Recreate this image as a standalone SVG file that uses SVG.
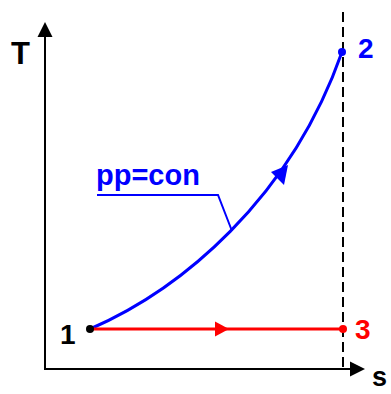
<svg xmlns="http://www.w3.org/2000/svg" width="391" height="394" viewBox="0 0 391 394">
<style>
.lbl{font-family:"Liberation Sans",Arial,sans-serif;font-weight:bold}
.ax{stroke:#000;stroke-width:2;fill:none}
</style>
<rect width="391" height="394" fill="#fff"/>
<g id="axes">
<path class="ax" d="M45,370 V36 M44,369 H351"/>
<polygon points="45,22 37.5,37 52.5,37" fill="#000"/>
<polygon points="365,369 350,361.5 350,376.5" fill="#000"/>
<path d="M343,12 V369" stroke="#000" stroke-width="2" stroke-dasharray="10,5"/>
<text class="lbl" x="11" y="64" font-size="31" fill="#000">T</text>
<text class="lbl" x="372" y="386" font-size="27" fill="#000">s</text>
</g>
<g id="connectors">
<path d="M90,329 C180,290 290,200 342,52" stroke="#0000ff" stroke-width="3" fill="none"/>
<polygon points="288,165 271,172 284,185" fill="#0000ff"/>
<path d="M90,329 H343" stroke="#ff0000" stroke-width="3" fill="none"/>
<polygon points="229,329 215,321.5 215,336.5" fill="#ff0000"/>
<path d="M97,195 H218 L232,231" stroke="#0000ff" stroke-width="2" fill="none"/>
</g>
<g id="node1">
<circle cx="90" cy="329" r="4" fill="#000"/>
<text class="lbl" x="60" y="344" font-size="28" fill="#000">1</text>
</g>
<g id="node2">
<circle cx="342" cy="52" r="4" fill="#0000ff"/>
<text class="lbl" x="358" y="58" font-size="28" fill="#0000ff">2</text>
</g>
<g id="node3">
<circle cx="343" cy="329" r="4" fill="#ff0000"/>
<text class="lbl" x="355" y="339" font-size="28" fill="#ff0000">3</text>
</g>
<g id="label-pp">
<text class="lbl" x="96" y="185" font-size="29" fill="#0000ff">pp=con</text>
</g>
</svg>
